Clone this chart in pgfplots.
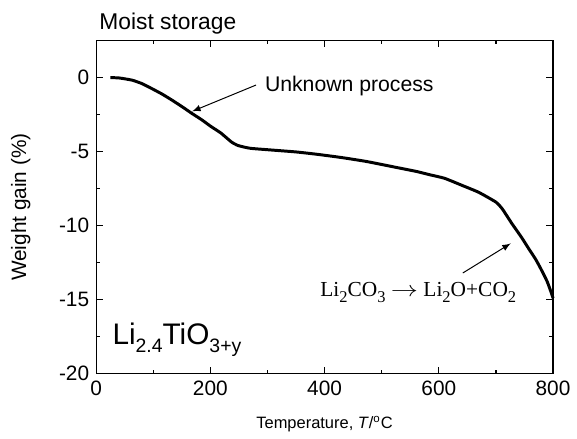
\documentclass[border=0pt]{standalone}
\usepackage{pgfplots}
\pgfplotsset{compat=1.18}
\usepackage{fontspec}
\setmainfont{Liberation Sans}
\newfontfamily\serifrm{Liberation Serif}
\newcommand{\sbA}[1]{\raisebox{-4.3pt}{\fontsize{9.8}{12}\selectfont #1}}
\newcommand{\sbB}[1]{\raisebox{-3.2pt}{\fontsize{8.3}{10}\selectfont #1}}
\begin{document}
\begin{tikzpicture}
\begin{axis}[
  scale only axis,
  width=230.5pt, height=168pt,
  xmin=0, xmax=800, ymin=-20, ymax=2.5,
  xtick={0,200,400,600,800},
  ytick={-20,-15,-10,-5,0},
  minor x tick num=1, minor y tick num=1,
  tick align=inside,
  xtick pos=both, ytick pos=both,
  major tick length=3.4pt, minor tick length=1.8pt,
  every tick/.style={black, line width=0.6pt},
  axis line style={line width=0.6pt},
  tick label style={font=\fontsize{10.5}{12}\selectfont},
  /pgf/number format/assume math mode=true,
  xlabel={Temperature, \textit{T}/\textsuperscript{o}C},
  xlabel style={font=\fontsize{8.3}{10}\selectfont, at={(axis description cs:0.5,-0.152)}, anchor=center},
  ylabel={Weight gain (\%)},
  ylabel style={font=\fontsize{10.5}{12}\selectfont, at={(axis description cs:-0.165,0.5)}, anchor=center},
  clip=false,
]
\addplot[black, line width=1.5pt, smooth, tension=0.3] coordinates {
(25,0) (40,-0.02) (63,-0.17) (80,-0.4) (97,-0.73) (115,-1.1) (132,-1.5)
(150,-1.95) (167,-2.4) (185,-2.85) (201,-3.3) (218,-3.73) (237,-4.35)
(248,-4.58) (260,-4.7) (271,-4.78) (300,-4.87) (350,-5.02) (387,-5.18)
(430,-5.4) (474,-5.67) (526,-6.07) (561,-6.34) (584,-6.56) (610,-6.8)
(642,-7.30) (670,-7.75) (700,-8.41) (711,-8.86) (728,-9.86) (745,-10.8)
(757,-11.53) (770,-12.3) (781,-13.09) (790,-13.8) (798,-14.65) (800,-14.9)
};
\draw[-latex, line width=0.5pt] (axis cs:280,-0.5) -- (axis cs:168,-2.28);
\draw[-latex, line width=0.5pt] (axis cs:642,-13.2) -- (axis cs:726,-11.2);
\node[anchor=base west, inner sep=0pt, font=\fontsize{10.7}{12}\selectfont] at (axis cs:295,-0.95) {Unknown process};
\node[anchor=base west, inner sep=0pt, font=\serifrm\fontsize{10.8}{13}\selectfont] at (axis cs:392,-14.76) {Li\sbB{2}CO\sbB{3} \scalebox{1.25}[1]{$\rightarrow$} Li\sbB{2}O+CO\sbB{2}};
\node[anchor=base west, inner sep=0pt, font=\fontsize{15}{18}\selectfont] at (axis cs:28,-18.0) {Li\sbA{2.4}TiO\sbA{3+y}};
\node[anchor=base west, inner sep=0pt, font=\fontsize{11.5}{13}\selectfont] at (axis cs:5,3.22) {Moist storage};
\end{axis}
\path (-48.5pt,-31pt) rectangle (240pt,188.5pt);
\end{tikzpicture}
\end{document}
